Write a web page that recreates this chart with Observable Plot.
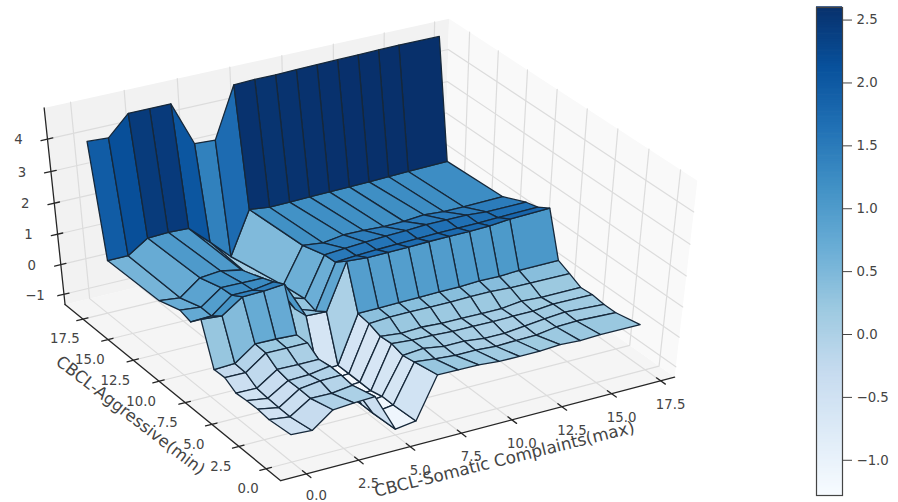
<!DOCTYPE html>
<html>
<head>
<meta charset="utf-8">
<script src="https://cdn.jsdelivr.net/npm/d3@7"></script>
<script src="https://cdn.jsdelivr.net/npm/@observablehq/plot@0.6"></script>
<style>
html,body{margin:0;padding:0;background:#fff;width:898px;height:502px;overflow:hidden}
#main,#bar{position:absolute;top:0}
#main{left:0}#bar{left:790px}
</style>
</head>
<body>
<div id="main"></div><div id="bar"></div>
<script>
// Surface grid: CBCL-Somatic Complaints (x) and CBCL-Aggressive (y)
const somatic = [0,1,2,3,4,5,6,7,8,9,10,11,12,13,14,15,17];
const aggressive = [0,2,3,4,5,6,7,8,9,10,12,17,18];
const z00 = [-.42,-.46,.05,.10,.13,-1.15,-1.05,.32,.31,.30,.24,.23,.23,.28,.24,.27,.26];
const z02 = [-.51,-.60,-.16,-.17,-.08,-1.20,-1.10,.17,.10,.04,.04,.00,.02,.03,.13,.16,.10];
const z03 = [-.46,-.59,-.14,-.05,-.03,-1.20,-1.10,.10,.16,.06,.06,-.02,-.02,.05,.12,.18,.10];
const z04 = [-.47,-.57,-.15,-.13,-.02,-1.25,-1.20,.21,.15,.14,.10,.10,.09,.10,.10,.17,.15];
const z05 = [-.51,-.52,-.07,-.08,-.08,-1.25,-1.20,.17,.10,.13,.09,.09,.08,.08,.16,.12,.12];
const z06 = [-.28,-.29,.19,.18,.18,-1.25,-1.20,.31,.36,.36,.35,.35,.37,.37,.33,.32,.31];
const z07 = [-.30,-.27,.21,.20,.17,-1.25,-1.20,.37,.38,.39,.40,.42,.42,.45,.44,.47,.48];
const z08 = [1.07,1.02,1.47,1.49,1.55,.35,.32,1.80,1.75,1.76,1.77,1.79,1.80,1.80,1.82,1.88,1.92];
const z09 = [.71,.74,1.25,1.25,1.35,.30,.07,1.50,1.55,1.58,1.60,1.62,1.64,1.64,1.65,1.67,1.70];
const z10 = [.82,.75,1.22,1.21,1.20,.40,.20,1.47,1.52,1.56,1.60,1.62,1.65,1.65,1.65,1.60,1.60];
const z12 = [.58,.51,1.00,1.06,.93,.20,.10,1.25,1.17,1.27,1.26,1.23,1.24,1.30,1.25,1.25,1.27];
const z17 = [.55,.55,.97,1.00,.97,.36,-.28,1.12,1.04,1.05,1.07,1.08,1.09,1.10,1.12,1.14,1.17];
const z18 = [4.07,4.03,4.63,4.63,4.63,3.27,3.23,4.78,4.80,4.80,4.82,4.83,4.84,4.85,4.86,4.87,4.86];
const zRows = [z00,z02,z03,z04,z05,z06,z07,z08,z09,z10,z12,z17,z18];

const xTicks = [0,2.5,5,7.5,10,12.5,15,17.5];
const yTicks = [0,2.5,5,7.5,10,12.5,15,17.5];
const zTicks = [-1,0,1,2,3,4];
const barTicks = [-1,-.5,0,.5,1,1.5,2,2.5];
const xTitle = "CBCL-Somatic Complaints(max)";
const yTitle = "CBCL-Aggressive(min)";
const blues = ["#f7fbff","#deebf7","#c6dbef","#9ecae1","#6baed6","#4292c6","#2171b5","#08519c","#08306b"];
const barMin = -1.28, barMax = 2.6;

// Axis box limits
const xMin=-1.22,xMax=18.22,yMin=-1.31,yMax=19.31,zMin=-1.35,zMax=4.94;

// Camera calibration: box points and where they appear on the page
const calib = [
 [xMin,yMax,zMax,43,108],[xMax,yMax,zMax,448,18],[xMax,yMin,zMax,697,178],
 [xMin,yMax,zMin,65,304],[xMin,yMin,zMin,280,479],[xMax,yMin,zMin,674,376],
 [0,yMin,zMin,308,472.5],[2.5,yMin,zMin,358,460],[5,yMin,zMin,410,446],[7.5,yMin,zMin,462,433],[10,yMin,zMin,512,420],[12.5,yMin,zMin,560,407],[15,yMin,zMin,610,394],[17.5,yMin,zMin,660,381],
 [xMin,0,zMin,265,468],[xMin,2.5,zMin,237,447],[xMin,5,zMin,212,424],[xMin,7.5,zMin,184,403],[xMin,10,zMin,159,381],[xMin,12.5,zMin,134,360],[xMin,15,zMin,107,339],[xMin,17.5,zMin,82,319],
 [xMin,yMax,4,46,137],[xMin,yMax,3,50,170],[xMin,yMax,2,53,202],[xMin,yMax,1,57,232],[xMin,yMax,0,60,263],[xMin,yMax,-1,64,293],
 [xMax,0,zMax,680,170],[xMax,2.5,zMax,648,149],[xMax,5,zMax,617,128],[xMax,7.5,zMax,587,108],[xMax,10,zMax,557,88],[xMax,12.5,zMax,528,68],[xMax,15,zMax,498,51],[xMax,17.5,zMax,469,32],
 [0,yMax,zMax,70,103],[2.5,yMax,zMax,124,92],[5,yMax,zMax,178,80],[7.5,yMax,zMax,229,68],[10,yMax,zMax,282,55],[12.5,yMax,zMax,333,43]
];
function solveCamera(pts){
  const n=11,A=d3.range(n).map(()=>new Array(n+1).fill(0));
  const add=(r,b)=>{for(let i=0;i<n;i++){for(let j=0;j<n;j++)A[i][j]+=r[i]*r[j];A[i][n]+=r[i]*b;}};
  for(const [X0,Y0,Z0,u0,v0] of pts){
    const X=X0/10,Y=Y0/10,Z=Z0/10,u=u0/500,v=v0/500;
    add([X,Y,Z,1,0,0,0,0,-u*X,-u*Y,-u*Z],u);
    add([0,0,0,0,X,Y,Z,1,-v*X,-v*Y,-v*Z],v);
  }
  for(let i=0;i<n;i++){
    let m=i;for(let k=i+1;k<n;k++)if(Math.abs(A[k][i])>Math.abs(A[m][i]))m=k;
    [A[i],A[m]]=[A[m],A[i]];
    for(let k=0;k<n;k++){if(k===i)continue;const f=A[k][i]/A[i][i];for(let j=i;j<=n;j++)A[k][j]-=f*A[i][j];}
  }
  return A.map((r,i)=>r[n]/r[i]);
}
const cam=solveCamera(calib);
function project(x,y,z){
  const X=x/10,Y=y/10,Z=z/10;
  const w=cam[8]*X+cam[9]*Y+cam[10]*Z+1;
  return {px:500*(cam[0]*X+cam[1]*Y+cam[2]*Z+cam[3])/w, py:500*(cam[4]*X+cam[5]*Y+cam[6]*Z+cam[7])/w, w};
}
const polyline=(id,pts)=>pts.map(([a,b,c])=>({id,...project(a,b,c)}));

// Panes
const panes=[
 ...polyline("floor",[[xMin,yMin,zMin],[xMax,yMin,zMin],[xMax,yMax,zMin],[xMin,yMax,zMin]]).map(d=>({...d,col:"#f5f5f5"})),
 ...polyline("back",[[xMin,yMax,zMin],[xMax,yMax,zMin],[xMax,yMax,zMax],[xMin,yMax,zMax]]).map(d=>({...d,col:"#f2f2f2"})),
 ...polyline("right",[[xMax,yMin,zMin],[xMax,yMax,zMin],[xMax,yMax,zMax],[xMax,yMin,zMax]]).map(d=>({...d,col:"#f9f9f9"}))
];
// Grid lines
const grid=[
 ...xTicks.flatMap(t=>polyline("gx"+t,[[t,yMin,zMin],[t,yMax,zMin],[t,yMax,zMax]])),
 ...yTicks.flatMap(t=>polyline("gy"+t,[[xMin,t,zMin],[xMax,t,zMin],[xMax,t,zMax]])),
 ...zTicks.flatMap(t=>polyline("gz"+t,[[xMin,yMax,t],[xMax,yMax,t],[xMax,yMin,t]]))
];
// Axes and ticks
const axes=[
 ...polyline("ax",[[xMin,yMin,zMin],[xMax,yMin,zMin]]),
 ...polyline("ay",[[xMin,yMin,zMin],[xMin,yMax,zMin]]),
 ...polyline("az",[[xMin,yMax,zMin],[xMin,yMax,zMax]]),
 ...xTicks.flatMap(t=>polyline("tx"+t,[[t,yMin+.35,zMin],[t,yMin-.4,zMin]])),
 ...yTicks.flatMap(t=>polyline("ty"+t,[[xMin+.25,t,zMin],[xMin-.3,t,zMin]])),
 ...zTicks.flatMap(t=>polyline("tz"+t,[[xMin+.25,yMax,t],[xMin-.3,yMax,t]]))
];
const fmt=d3.format(".1f");
const xLabels=xTicks.map(t=>({...project(t,yMin,zMin),s:fmt(t)}));
const yLabels=yTicks.map(t=>({...project(xMin,t,zMin),s:fmt(t)}));
const zLabels=zTicks.map(t=>({...project(xMin,yMax,t),s:d3.format("d")(t)}));

// Surface facets, painted far to near; colour is the mean of the closed outline (first corner counted twice)
const cells=[];
for(let j=0;j<aggressive.length-1;j++)for(let i=0;i<somatic.length-1;i++){
  const c=[[i,j],[i+1,j],[i+1,j+1],[i,j+1],[i,j]].map(([a,b])=>[somatic[a],aggressive[b],zRows[b][a]]);
  const pts=c.slice(0,4).map(p=>project(...p));
  cells.push({id:`${i}-${j}`,v:d3.mean(c,p=>p[2]),depth:d3.mean(pts,p=>p.w),pts});
}
cells.sort((a,b)=>b.depth-a.depth);
const facets=cells.flatMap(c=>c.pts.map(p=>({id:c.id,v:c.v,px:p.px,py:p.py})));

const colorStops=blues.map((_,i)=>barMin+(barMax-barMin)*i/8);
const tickFont={fontFamily:"DejaVu Sans",fontSize:13.3,fill:"#444"};

const main=Plot.plot({
  width:898,height:502,margin:0,
  style:{background:"transparent"},
  x:{domain:[0,898],range:[0,898],axis:null},
  y:{domain:[0,502],range:[0,502],axis:null},
  color:{type:"linear",domain:colorStops,range:blues,clamp:true},
  marks:[
    Plot.line(panes,{x:"px",y:"py",z:"id",fill:d=>d.col,stroke:"none",curve:"linear-closed"}),
    Plot.line(grid,{x:"px",y:"py",z:"id",stroke:"#dcdcdc",strokeWidth:1.2}),
    Plot.line(axes,{x:"px",y:"py",z:"id",stroke:"#262626",strokeWidth:1.3}),
    Plot.text(xLabels.slice(0,1),{x:"px",y:"py",text:"s",dx:10,dy:22,...tickFont}),
    Plot.text(xLabels.slice(1),{x:"px",y:"py",text:"s",dx:10,dy:24,...tickFont}),
    Plot.text(yLabels,{x:"px",y:"py",text:"s",dx:-18,dy:20,...tickFont}),
    Plot.text(zLabels,{x:"px",y:"py",text:"s",dx:-29,dy:1,...tickFont}),
    Plot.text([xTitle],{x:()=>504,y:()=>459,text:d=>d,rotate:-14,fontFamily:"DejaVu Sans",fontSize:16.8,fill:"#444"}),
    Plot.text([yTitle],{x:()=>130,y:()=>415,text:d=>d,rotate:37.7,fontFamily:"DejaVu Sans",fontSize:16.5,fill:"#444"}),
    Plot.line(facets,{x:"px",y:"py",z:"id",fill:"v",stroke:"#16283a",strokeWidth:1.3,strokeLinejoin:"round",curve:"linear-closed"})
  ]
});
document.getElementById("main").append(main);

const steps=d3.range(0,200).map(i=>barMin+(barMax-barMin)*i/200);
const dv=(barMax-barMin)/200;
const bar=Plot.plot({
  width:108,height:502,marginLeft:26,marginRight:56,marginTop:7,marginBottom:7,
  style:{background:"transparent"},
  x:{domain:[0,1],axis:null},
  y:{domain:[barMin,barMax]},
  color:{type:"linear",domain:colorStops,range:blues,clamp:true},
  marks:[
    Plot.rectY(steps,{x1:0,x2:1,y1:d=>d,y2:d=>d+dv*1.3,fill:d=>d,inset:0}),
    Plot.frame({stroke:"#444",strokeWidth:1.2}),
    Plot.axisY({anchor:"right",ticks:barTicks,tickFormat:".1f",tickSize:9,tickPadding:5,label:null,
      fontFamily:"DejaVu Sans",fontSize:13.3,color:"#444",stroke:"#444"})
  ]
});
document.getElementById("bar").append(bar);
</script>
</body>
</html>
